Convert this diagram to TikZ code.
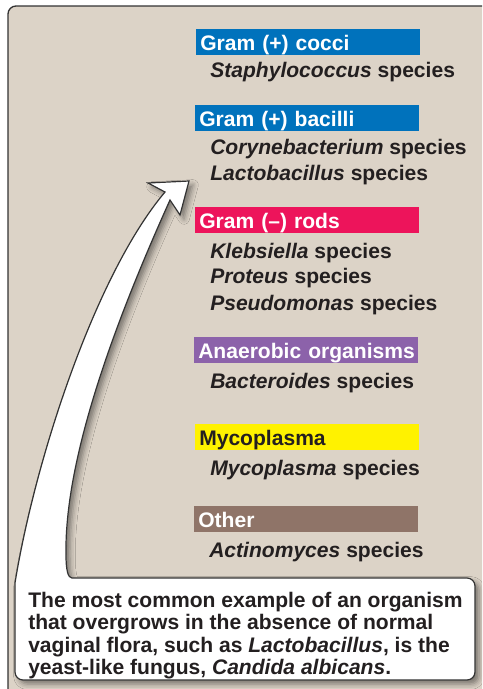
\documentclass[tikz,border=0pt]{standalone}
\usepackage{fontspec}
\setmainfont{Liberation Sans}
\usepackage{tikz}
\usetikzlibrary{shadows.blur}
\definecolor{panelbg}{HTML}{DCD3C7}
\definecolor{linegray}{HTML}{333333}
\definecolor{inkdark}{HTML}{231F20}
\definecolor{gpblue}{HTML}{0072BC}
\definecolor{gnred}{HTML}{ED145B}
\definecolor{anpurple}{HTML}{8C62AA}
\definecolor{myyellow}{HTML}{FFF200}
\definecolor{otbrown}{HTML}{8F7468}

\begin{document}
\begin{tikzpicture}[
  x=0.75pt, y=-0.75pt,
  font=\fontsize{15.8}{16.9}\selectfont\bfseries,
  panel/.style={draw=linegray, line width=1pt, fill=panelbg, rounded corners=6pt},
  bar/.style={fill=#1, text=white, anchor=north west, minimum height=19.5pt,
    text width=162pt, inner xsep=3pt, inner ysep=0pt, align=left,
    text height=12pt, text depth=0pt},
  species/.style={anchor=base west, inner sep=0pt, text=inkdark},
  callout/.style={fill=white, draw=linegray, line width=0.9pt,
    blur shadow={shadow xshift=3pt, shadow yshift=-3pt, shadow blur radius=4pt, shadow opacity=45}},
  note/.style={anchor=north west, inner sep=0pt, align=left, text=inkdark}
]
\useasboundingbox (0,0) rectangle (482,689);
\clip (0,0) rectangle (482,689);
\draw[panel] (8,6) rectangle (500,710);

% callout box with its arrow
\draw[callout] (165,192) .. controls (95,275) and (35,460) .. (15,583)
  [rounded corners=6pt] -- (15,680) -- (475,680) -- (475,578) -- (80,578)
  [sharp corners] .. controls (68,578) and (66,570) .. (66,555)
  .. controls (64,450) and (125,300) .. (170,200)
  -- (180,215) -- (189,181) -- (148,183) -- cycle;
\node[note] (note) at (28,591.5) {The most common example of an organism\\
that overgrows in the absence of normal\\
vaginal flora, such as \textit{Lactobacillus}, is the\\
yeast-like fungus, \textit{Candida albicans}.};

% groups
\node[bar=gpblue] (cocci) at (196,29) {Gram (+) cocci};
\node[species] (staph) at (210,77.5) {\textit{Staphylococcus} species};
\node[bar=gpblue] (bacilli) at (195,105) {Gram (+) bacilli};
\node[species] (coryne) at (210,154) {\textit{Corynebacterium} species};
\node[species] (lacto) at (210,180.5) {\textit{Lactobacillus} species};
\node[bar=gnred] (rods) at (195,207) {Gram (\textendash) rods};
\node[species] (klebs) at (210,258) {\textit{Klebsiella} species};
\node[species] (proteus) at (210,283.5) {\textit{Proteus} species};
\node[species] (pseudo) at (210,310) {\textit{Pseudomonas} species};
\node[bar=anpurple] (anaer) at (194,337) {\mbox{Anaerobic organisms}};
\node[species] (bacter) at (210,388) {\textit{Bacteroides} species};
\node[bar=myyellow, text=inkdark] (myco) at (195,424) {Mycoplasma};
\node[species] (mycosp) at (210,475) {\textit{Mycoplasma} species};
\node[bar=otbrown] (other) at (194,506) {Other};
\node[species] (actino) at (209,557) {\textit{Actinomyces} species};
\end{tikzpicture}
\end{document}
